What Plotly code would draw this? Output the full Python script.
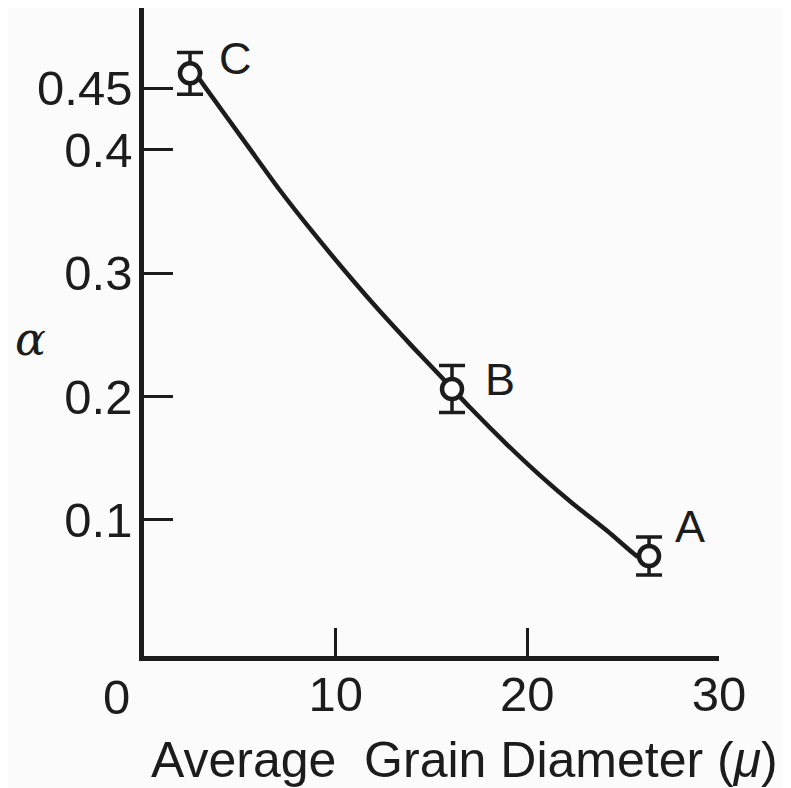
import plotly.graph_objects as go

# ---- data ----
sample_labels = ["C", "B", "A"]
grain_diameter = [2.40, 16.07, 26.35]        # average grain diameter (micron)
alpha_value = [0.462, 0.206, 0.0706]
alpha_error = [0.017, 0.019, 0.0155]

# hand-drawn smooth curve through the points
curve_x = [2.77, 3.18, 5.37, 7.10, 8.82, 10.85, 12.31, 14.03, 15.44, 17.01,
           18.94, 20.66, 22.38, 24.16, 25.51, 25.93]
curve_y = [0.460, 0.451, 0.404, 0.367, 0.333, 0.295, 0.269, 0.240, 0.217, 0.191,
           0.161, 0.136, 0.113, 0.091, 0.073, 0.068]

x_ticks = [10, 20, 30]
y_ticks = [0.1, 0.2, 0.3, 0.4, 0.45]
y_tick_text = ["0.1", "0.2", "0.3", "0.4", "0.45"]

# label offsets (pixels) from each point
label_dx = [45, 48, 41]
label_dy = [15, 10, 29]

ink = "#1c1c1c"
bg = "#fbfbfb"
font_family = "Liberation Sans, Arial, sans-serif"

fig = go.Figure()

fig.add_trace(go.Scatter(
    x=curve_x, y=curve_y, mode="lines",
    line=dict(color=ink, width=4.5, shape="spline", smoothing=0.6),
    hoverinfo="skip", showlegend=False,
))

fig.add_trace(go.Scatter(
    x=grain_diameter, y=alpha_value, mode="markers",
    marker=dict(symbol="circle", size=20, color=bg, line=dict(color=ink, width=4.5)),
    error_y=dict(type="data", array=alpha_error, visible=True, color=ink, thickness=3.5, width=13),
    showlegend=False,
))

for lab, xv, yv, dx, dy in zip(sample_labels, grain_diameter, alpha_value, label_dx, label_dy):
    fig.add_annotation(x=xv, y=yv, text=lab, showarrow=False, xshift=dx, yshift=dy,
                       font=dict(family=font_family, size=45, color=ink))

fig.add_annotation(xref="paper", yref="paper", x=-0.047, y=-0.0633, text="0",
                   showarrow=False, font=dict(family=font_family, size=49, color=ink),
                   xanchor="center", yanchor="middle")

fig.add_annotation(xref="paper", yref="paper", x=0.558, y=-0.160,
                   text="Average  Grain Diameter (<i>μ</i>)",
                   showarrow=False, font=dict(family=font_family, size=50, color=ink),
                   xanchor="center", yanchor="middle")

fig.add_annotation(xref="paper", yref="paper", x=-0.198, y=0.489,
                   text="<i>α</i>", showarrow=False,
                   font=dict(family="DejaVu Serif, serif", size=46, color=ink),
                   xanchor="center", yanchor="middle")

fig.update_xaxes(
    range=[0, 30], showline=True, linecolor=ink, linewidth=4.5,
    ticks="inside", ticklen=28, tickwidth=3, tickcolor=ink,
    tickvals=x_ticks, ticktext=[str(v) for v in x_ticks],
    tickfont=dict(family=font_family, size=49, color=ink),
    ticklabelstandoff=-9, showgrid=False, zeroline=False, mirror=False,
)
fig.update_yaxes(
    range=[-0.0105, 0.515], showline=True, linecolor=ink, linewidth=4.5,
    ticks="inside", ticklen=29, tickwidth=3, tickcolor=ink,
    tickvals=y_ticks, ticktext=y_tick_text,
    tickfont=dict(family=font_family, size=49, color=ink),
    ticklabelstandoff=-3, showgrid=False, zeroline=False,
)

fig.update_layout(
    width=783, height=780,
    margin=dict(l=136, r=72, t=0, b=132),
    paper_bgcolor=bg, plot_bgcolor=bg,
)

fig.write_html("out.html")
